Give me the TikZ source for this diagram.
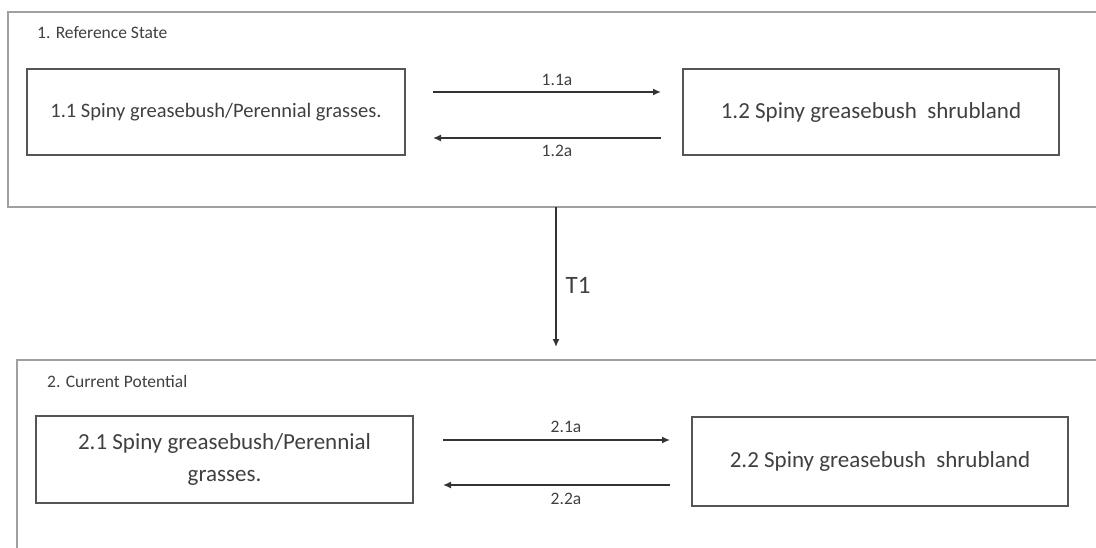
\documentclass[tikz,border=0pt]{standalone}
\usepackage{fontspec}
\setmainfont{Carlito}
\usetikzlibrary{arrows.meta}

\definecolor{txtgray}{HTML}{404040}
\definecolor{boxgray}{HTML}{555555}
\definecolor{panelgray}{HTML}{A0A0A0}

\begin{document}
\begin{tikzpicture}[x=1pt, y=-1pt,
    panel/.style={draw=panelgray, line width=1.3pt},
    statebox/.style={rectangle, draw=boxgray, line width=1.5pt, text=txtgray, align=center,
        font=\fontsize{23}{32}\selectfont, inner sep=0pt},
    title/.style={anchor=west, text=txtgray, font=\fontsize{17.5}{20}\selectfont, inner sep=0pt},
    lbl/.style={text=txtgray, font=\fontsize{17.5}{20}\selectfont, inner sep=0pt},
    link/.style={draw=black!80, line width=1.5pt, -{Latex[length=8pt, width=7pt]}}]
    \useasboundingbox (0, 0) rectangle (1096, 547);

    % panels
    \draw[panel] (8, 12) rectangle (1120, 207);
    \draw[panel] (17, 360) rectangle (1120, 580);
    \node[title] (ref) at (37, 33) {1. Reference State};
    \node[title] (cur) at (47, 381) {2. Current Potential};

    % states
    \node[statebox, minimum width=378, minimum height=86, font=\fontsize{20.5}{26}\selectfont] (s11) at (216, 112) {1.1 Spiny greasebush/Perennial grasses.};
    \node[statebox, minimum width=376, minimum height=86] (s12) at (871, 112) {1.2 Spiny greasebush\ \ shrubland};
    \node[statebox, minimum width=377, minimum height=87] (s21) at (224.5, 459.5) {2.1 Spiny greasebush/Perennial\\grasses.};
    \node[statebox, minimum width=376, minimum height=89] (s22) at (880, 461.5) {2.2 Spiny greasebush\ \ shrubland};

    % transition ends
    \coordinate (p11a) at (433, 92);
    \coordinate (q11a) at (661, 92);
    \coordinate (p12a) at (661, 138);
    \coordinate (q12a) at (433, 138);
    \coordinate (p21a) at (443, 440);
    \coordinate (q21a) at (670, 440);
    \coordinate (p22a) at (670, 485);
    \coordinate (q22a) at (443, 485);
    \coordinate (pT1) at (556, 207);
    \coordinate (qT1) at (556, 347);

    \draw[link] (p11a) to (q11a);
    \draw[link] (p12a) to (q12a);
    \draw[link] (p21a) to (q21a);
    \draw[link] (p22a) to (q22a);
    \draw[link] (pT1) to (qT1);

    \node[lbl] (l11a) at (557, 80) {1.1a};
    \node[lbl] (l12a) at (557, 151) {1.2a};
    \node[lbl] (l21a) at (566, 427) {2.1a};
    \node[lbl] (l22a) at (566, 499) {2.2a};
    \node[lbl, font=\fontsize{25}{30}\selectfont] (lT1) at (578, 285) {T1};
\end{tikzpicture}
\end{document}
